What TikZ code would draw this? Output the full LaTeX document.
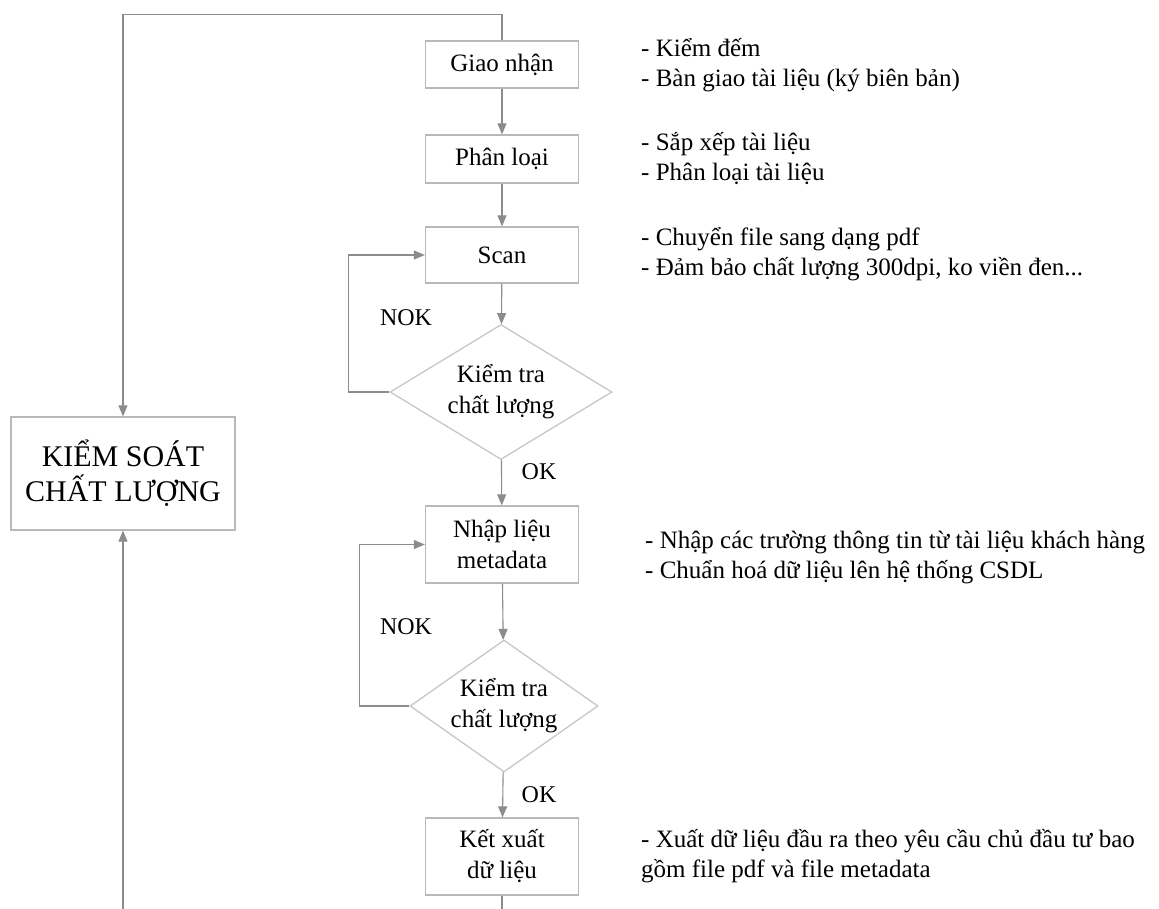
\documentclass[tikz,border=0pt]{standalone}
\usepackage{fontspec}
\setmainfont{Liberation Serif}
\usetikzlibrary{shapes.geometric,arrows.meta}
\begin{document}
\begin{tikzpicture}[x=1pt,y=-1pt,
 box/.style={draw=black!28, line width=1.3pt, fill=white, minimum width=153pt, inner sep=0pt, align=center, font=\fontsize{25}{31}\selectfont},
 dec/.style={draw=black!22, line width=1.3pt, shape=diamond, inner sep=0pt, align=center, font=\fontsize{25}{31}\selectfont},
 conn/.style={draw=black!45, line width=1.1pt, -{Triangle[length=11pt,width=9pt]}},
 note/.style={anchor=west, align=left, inner sep=0pt, font=\fontsize{25}{30}\selectfont},
 lbl/.style={inner sep=0pt, font=\fontsize{24}{28}\selectfont}]
\clip (0,0) rectangle (1159,908);
\fill[white] (0,0) rectangle (1159,908);
% process column
\node[box, minimum height=47pt] (giao) at (502,64.5) {Giao nhận};
\node[box, minimum height=48pt] (phan) at (502,159) {Phân loại};
\node[box, minimum height=56pt] (scan) at (502,255) {Scan};
\node[dec, minimum width=222pt, minimum height=135pt, aspect=1.64] (kt1) at (501,392) {Kiểm tra\\chất lượng};
\node[box, minimum height=77pt] (nhap) at (502,544.5) {Nhập liệu\\metadata};
\node[dec, minimum width=188pt, minimum height=132pt, aspect=1.42] (kt2) at (504,706) {Kiểm tra\\chất lượng};
\node[box, minimum height=77pt] (ket) at (502,856.5) {Kết xuất\\dữ liệu};
\node[box, minimum width=224pt, minimum height=113pt, font=\fontsize{30}{35}\selectfont] (ks) at (123,473.5) {KIỂM SOÁT\\CHẤT LƯỢNG};
% labels
\node[lbl] (nok1) at (406,318) {NOK};
\node[lbl] (ok1) at (539,472) {OK};
\node[lbl] (nok2) at (406,627) {NOK};
\node[lbl] (ok2) at (539,795) {OK};
% connectors
\draw[conn] (giao) -- (phan);
\draw[conn] (phan) -- (scan);
\draw[conn] (scan) -- (kt1);
\draw[conn] (kt1) -- (nhap);
\draw[conn] (nhap) -- (kt2);
\draw[conn] (kt2) -- (ket);
\draw[conn] (kt1.west) -- ++(-41,0) |- (scan.west);
\draw[conn] (kt2.west) -- ++(-50,0) |- (nhap.west);
\draw[conn] (giao.north) -- ++(0,-26) -| (ks.north);
\draw[conn] (ket.south) -- ++(0,40) -| (ks.south);
% notes
\node[note] (n1) at (641,65) {- Kiểm đếm\\- Bàn giao tài liệu (ký biên bản)};
\node[note] (n2) at (641,159) {- Sắp xếp tài liệu\\- Phân loại tài liệu};
\node[note] (n3) at (641,254) {- Chuyển file sang dạng pdf\\- Đảm bảo chất lượng 300dpi, ko viền đen...};
\node[note] (n4) at (645,557) {- Nhập các trường thông tin từ tài liệu khách hàng\\- Chuẩn hoá dữ liệu lên hệ thống CSDL};
\node[note] (n5) at (641,856) {- Xuất dữ liệu đầu ra theo yêu cầu chủ đầu tư bao\\gồm file pdf và file metadata};
\end{tikzpicture}
\end{document}
